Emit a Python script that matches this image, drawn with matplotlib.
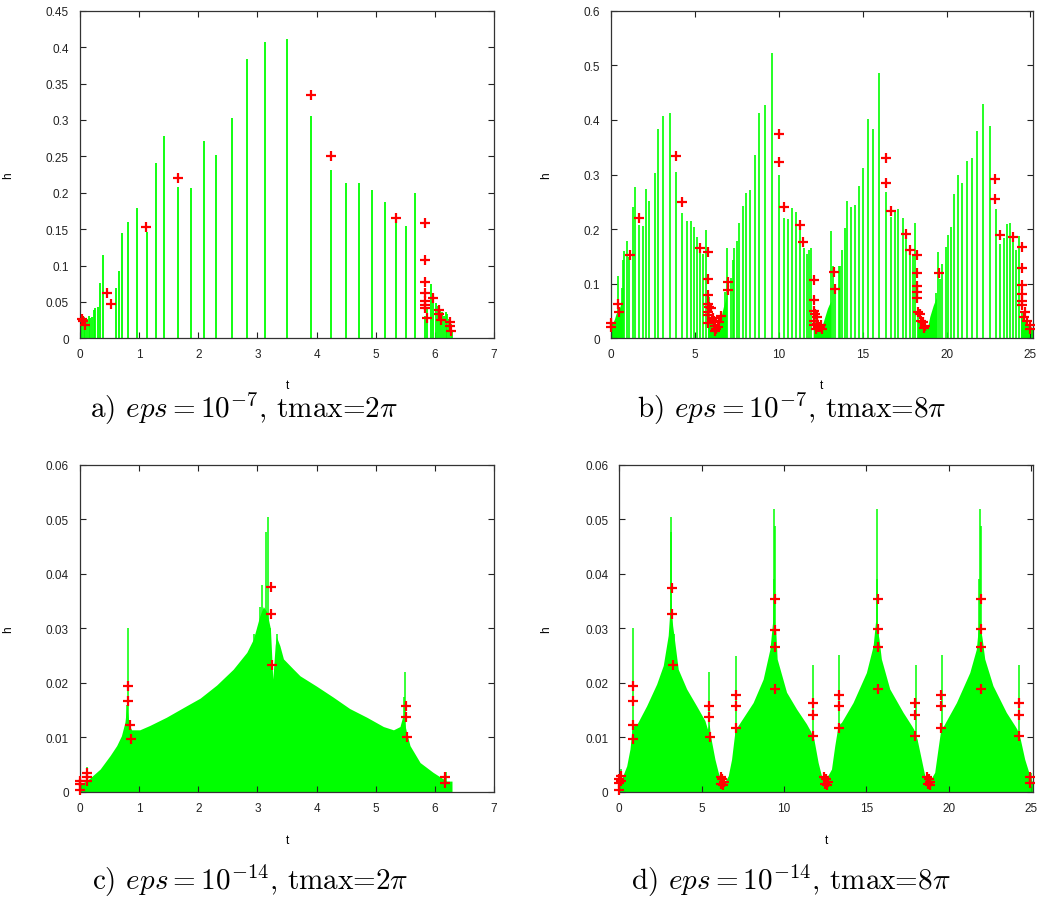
import numpy as np
import matplotlib
matplotlib.use("Agg")
import matplotlib.pyplot as plt
from matplotlib.ticker import FuncFormatter, MultipleLocator

# ---------------- data ----------------
# (t, h) step sizes, eps = 1e-7, tmax = 2*pi
a_bars = [(0.0, 0.030), (0.017, 0.032), (0.04, 0.030), (0.068, 0.029), (0.09, 0.027),
          (0.118, 0.027), (0.147, 0.030), (0.175, 0.028), (0.203, 0.029), (0.231, 0.039),
          (0.259, 0.042), (0.299, 0.043), (0.344, 0.0755), (0.383, 0.115), (0.614, 0.069),
          (0.665, 0.093), (0.715, 0.144), (0.817, 0.160), (0.957, 0.179), (1.126, 0.1465),
          (1.278, 0.241), (1.419, 0.2774), (1.661, 0.208), (1.881, 0.206), (2.089, 0.2715),
          (2.303, 0.2518), (2.568, 0.302), (2.821, 0.383), (3.131, 0.4074), (3.502, 0.4111),
          (3.907, 0.305), (4.242, 0.231), (4.501, 0.2138), (4.715, 0.2138), (4.930, 0.2037),
          (5.155, 0.1868), (5.346, 0.161), (5.515, 0.1547), (5.667, 0.199), (5.832, 0.031),
          (5.871, 0.040), (5.928, 0.0746), (5.962, 0.060), (6.023, 0.049), (6.057, 0.045),
          (6.085, 0.040), (6.119, 0.036), (6.148, 0.031), (6.187, 0.036), (6.209, 0.034),
          (6.243, 0.027), (6.266, 0.020), (6.283, 0.012)]
# rejected steps
a_pts = [(0.03, 0.0265), (0.057, 0.0234), (0.09, 0.018), (0.451, 0.0618), (0.518, 0.0467),
         (1.121, 0.1534), (1.656, 0.2197), (3.910, 0.3337), (4.242, 0.2504), (5.346, 0.1653),
         (5.825, 0.1584), (5.825, 0.1071), (5.825, 0.0778), (5.825, 0.0618), (5.825, 0.0517),
         (5.825, 0.0462), (5.825, 0.0412), (5.870, 0.0279), (5.966, 0.0554), (6.062, 0.0385),
         (6.062, 0.0334), (6.101, 0.0256), (6.248, 0.022), (6.248, 0.0174), (6.265, 0.0105)]

# eps = 1e-7, tmax = 8*pi
b_bars = [(0.417, 0.1135), (0.636, 0.093), (0.715, 0.144), (0.795, 0.160), (0.934, 0.179),
          (1.093, 0.148), (1.29, 0.241), (1.45, 0.2775), (1.688, 0.208), (1.887, 0.206),
          (2.086, 0.273), (2.284, 0.252), (2.602, 0.302), (2.82, 0.383), (3.119, 0.4076),
          (3.536, 0.4126), (3.893, 0.305), (4.25, 0.230), (4.509, 0.2142), (4.747, 0.2142),
          (4.966, 0.204), (5.145, 0.1862), (5.32, 0.1624), (5.5, 0.154), (5.66, 0.198),
          (5.85, 0.075), (6.81, 0.084), (6.91, 0.1654), (7.15, 0.1106), (7.27, 0.1435),
          (7.35, 0.1654), (7.51, 0.178), (7.65, 0.2105), (7.85, 0.243), (8.07, 0.266),
          (8.30, 0.2716), (8.6, 0.336), (8.84, 0.4126), (9.2, 0.4273), (9.575, 0.5225),
          (10.04, 0.299), (10.33, 0.2197), (10.57, 0.2185), (10.81, 0.238), (11.0, 0.2318),
          (11.28, 0.198), (11.48, 0.166), (11.68, 0.1553), (11.82, 0.162), (11.94, 0.166),
          (12.15, 0.050), (13.13, 0.196), (13.23, 0.1331), (13.37, 0.096), (13.57, 0.1331),
          (13.67, 0.1331), (13.79, 0.1623), (13.93, 0.2014), (14.09, 0.2508), (14.32, 0.240),
          (14.56, 0.2447), (14.78, 0.2796), (15.02, 0.312), (15.32, 0.4017), (15.61, 0.3834),
          (15.99, 0.4859), (16.41, 0.2673), (16.71, 0.2215), (16.94, 0.2307), (17.12, 0.2368),
          (17.38, 0.2203), (17.60, 0.182), (17.82, 0.1545), (17.98, 0.153), (18.14, 0.211),
          (18.3, 0.050), (19.35, 0.0837), (19.51, 0.1575), (19.61, 0.109), (19.75, 0.1361),
          (19.94, 0.1666), (20.10, 0.1892), (20.28, 0.2032), (20.44, 0.2643), (20.70, 0.299),
          (20.94, 0.2838), (21.24, 0.324), (21.53, 0.330), (21.83, 0.3791), (22.19, 0.429),
          (22.57, 0.3882), (22.96, 0.2368), (23.2, 0.1727), (23.42, 0.183), (23.62, 0.2093),
          (23.76, 0.2105), (23.93, 0.188), (24.15, 0.1623), (24.34, 0.188), (24.5, 0.050)]
# clusters of very small steps (upper envelope)
b_clusters = [
    [(0.0, 0.030), (0.1, 0.028), (0.2, 0.035), (0.3, 0.045), (0.4, 0.050), (0.5, 0.055),
     (0.6, 0.065), (0.65, 0.070)],
    [(5.75, 0.040), (5.9, 0.035), (6.0, 0.030), (6.1, 0.025), (6.2, 0.022), (6.3, 0.020),
     (6.4, 0.025), (6.5, 0.033), (6.6, 0.045), (6.7, 0.058), (6.8, 0.068), (6.9, 0.080)],
    [(12.05, 0.030), (12.2, 0.028), (12.35, 0.022), (12.5, 0.020), (12.6, 0.025),
     (12.7, 0.035), (12.8, 0.045), (12.9, 0.055), (13.0, 0.062), (13.1, 0.068)],
    [(18.25, 0.035), (18.4, 0.030), (18.6, 0.022), (18.8, 0.020), (18.9, 0.025),
     (19.0, 0.040), (19.1, 0.050), (19.2, 0.060), (19.3, 0.068), (19.4, 0.075)],
    [(24.4, 0.040), (24.6, 0.035), (24.8, 0.028), (25.0, 0.022), (25.13, 0.018)],
]
b_pts = [(0.0, 0.0275), (0.0, 0.021), (0.437, 0.0628), (0.45, 0.0476), (1.132, 0.153),
         (1.668, 0.220), (3.893, 0.334), (4.25, 0.250), (5.32, 0.166), (5.80, 0.158),
         (5.80, 0.1086), (5.80, 0.0787), (5.80, 0.0628), (5.85, 0.0567), (5.78, 0.049),
         (5.80, 0.043), (5.80, 0.028), (5.96, 0.055), (6.0, 0.035), (6.10, 0.0366),
         (6.15, 0.0323), (6.22, 0.023), (6.22, 0.014), (6.25, 0.017), (6.35, 0.020),
         (6.46, 0.0292), (6.56, 0.0414), (6.95, 0.1037), (6.95, 0.0891), (10.01, 0.3748),
         (10.01, 0.3235), (10.29, 0.240), (11.24, 0.2075), (11.42, 0.176), (12.12, 0.1068),
         (12.12, 0.0696), (12.12, 0.0507), (12.18, 0.045), (12.25, 0.039), (12.12, 0.032),
         (12.12, 0.025), (12.22, 0.017), (12.3, 0.026), (12.35, 0.020), (12.45, 0.020),
         (12.55, 0.017), (12.5, 0.024), (13.27, 0.1209), (13.37, 0.0904), (16.37, 0.3297),
         (16.37, 0.2851), (16.67, 0.2338), (17.60, 0.1916), (17.82, 0.1612), (18.24, 0.1526),
         (18.24, 0.119), (18.24, 0.0964), (18.24, 0.0842), (18.24, 0.0744), (18.3, 0.049),
         (18.4, 0.045), (18.5, 0.032), (18.6, 0.029), (18.7, 0.023), (18.65, 0.018),
         (19.55, 0.119), (22.9, 0.2918), (22.9, 0.2552), (23.18, 0.1892), (23.96, 0.185),
         (24.47, 0.1678), (24.47, 0.128), (24.47, 0.0976), (24.47, 0.0812), (24.47, 0.0677),
         (24.47, 0.061), (24.66, 0.0488), (24.6, 0.0397), (24.8, 0.032), (24.95, 0.024),
         (25.0, 0.017)]

# eps = 1e-14, tmax = 2*pi : upper envelope of the dense steps
c_env = [(0.0, 0.0015), (0.11, 0.0020), (0.34, 0.0042), (0.51, 0.0067), (0.62, 0.0085),
         (0.70, 0.0103), (0.76, 0.0128), (0.79, 0.0158), (0.834, 0.0122), (0.873, 0.0114),
         (1.01, 0.0114), (1.18, 0.0122), (1.46, 0.0137), (1.80, 0.0158), (2.03, 0.0172),
         (2.31, 0.0196), (2.59, 0.0225), (2.82, 0.0256), (2.93, 0.0280), (3.04, 0.0323),
         (3.10, 0.0340), (3.16, 0.0330), (3.22, 0.0299), (3.26, 0.0207), (3.30, 0.0269),
         (3.32, 0.0285), (3.38, 0.0268), (3.44, 0.0244), (3.61, 0.0225), (3.72, 0.0213),
         (4.00, 0.0194), (4.28, 0.0174), (4.56, 0.0153), (4.85, 0.0137), (5.13, 0.0120),
         (5.30, 0.0114), (5.41, 0.0120), (5.46, 0.0140), (5.52, 0.0110), (5.58, 0.0085),
         (5.75, 0.0054), (5.97, 0.0036), (6.20, 0.0020), (6.29, 0.0020)]
c_spikes = [(0.11, 0.0045), (0.79, 0.016), (0.806, 0.0301), (2.95, 0.029), (3.04, 0.034),
            (3.08, 0.038), (3.14, 0.0477), (3.18, 0.0505), (3.22, 0.030), (3.33, 0.029),
            (5.47, 0.0175), (5.49, 0.022), (6.18, 0.0037)]
c_pts = [(0.0, 0.0021), (0.0, 0.0015), (0.0, 0.0003), (0.113, 0.0034), (0.113, 0.0028),
         (0.12, 0.0020), (0.817, 0.0194), (0.817, 0.0167), (0.845, 0.0122), (0.862, 0.0097),
         (3.223, 0.0375), (3.223, 0.0326), (3.25, 0.0232), (5.51, 0.0158), (5.51, 0.0138),
         (5.527, 0.0100), (6.175, 0.0027), (6.175, 0.0017)]

# eps = 1e-14, tmax = 8*pi
d_env = [(0.0, 0.0012), (0.14, 0.0024), (0.45, 0.0048), (0.65, 0.0079), (0.77, 0.0115),
         (0.89, 0.0122), (1.05, 0.0123), (1.66, 0.0158), (2.27, 0.0198), (2.67, 0.0232),
         (2.97, 0.0287), (3.12, 0.0354), (3.24, 0.0305), (3.32, 0.0287), (3.58, 0.0225),
         (4.09, 0.0189), (4.69, 0.0158), (5.20, 0.0131), (5.36, 0.0115), (5.46, 0.0125),
         (5.54, 0.0103), (5.81, 0.0060), (6.01, 0.0036), (6.21, 0.0018), (6.35, 0.0015),
         (6.62, 0.0030), (6.82, 0.0060), (7.02, 0.0110), (7.22, 0.0122), (8.13, 0.0164),
         (8.74, 0.0207), (9.15, 0.0262), (9.35, 0.0323), (9.51, 0.0293), (9.59, 0.0244),
         (10.16, 0.0183), (10.77, 0.0152), (11.37, 0.0125), (11.61, 0.0112), (11.82, 0.0097),
         (12.08, 0.0054), (12.28, 0.0030), (12.48, 0.0020), (12.89, 0.0042), (13.09, 0.0085),
         (13.29, 0.0122), (13.50, 0.0128), (14.20, 0.0164), (15.01, 0.0219), (15.42, 0.0268),
         (15.58, 0.0317), (15.78, 0.0280), (15.92, 0.0244), (16.43, 0.0189), (17.24, 0.0146),
         (17.75, 0.0122), (17.89, 0.0115), (18.09, 0.0097), (18.35, 0.0060), (18.56, 0.0030),
         (18.82, 0.0018), (19.16, 0.0036), (19.36, 0.0079), (19.53, 0.0115), (19.71, 0.0122),
         (20.48, 0.0164), (21.29, 0.0219), (21.69, 0.0262), (21.86, 0.0317), (22.05, 0.0280),
         (22.20, 0.0244), (22.70, 0.0195), (23.51, 0.0146), (24.02, 0.0122), (24.16, 0.0115),
         (24.36, 0.0097), (24.63, 0.0060), (24.94, 0.0030), (25.10, 0.0018)]
d_spikes = [(0.12, 0.0042), (0.81, 0.030), (3.12, 0.0477), (3.16, 0.0505), (3.24, 0.029),
            (3.32, 0.029), (5.46, 0.022), (7.12, 0.025), (9.38, 0.039), (9.41, 0.0519),
            (9.44, 0.0488), (11.74, 0.0232), (13.33, 0.0251), (15.63, 0.039), (15.66, 0.0518),
            (15.72, 0.029), (18.01, 0.0232), (19.59, 0.0251), (21.88, 0.039), (21.91, 0.0518),
            (21.96, 0.0488), (24.26, 0.0232), (25.0, 0.0035)]
d_pts = [(0.0, 0.0003), (0.0, 0.0017), (0.0, 0.0024), (0.1, 0.0030), (0.1, 0.0020),
         (0.82, 0.0194), (0.82, 0.0167), (0.84, 0.0122), (0.86, 0.0097),
         (3.2, 0.0374), (3.2, 0.0326), (3.26, 0.0232),
         (5.46, 0.0158), (5.46, 0.0138), (5.5, 0.0100),
         (6.15, 0.0027), (6.25, 0.0024), (6.35, 0.0019), (6.2, 0.0015), (6.3, 0.0012),
         (7.08, 0.0178), (7.08, 0.0158), (7.08, 0.0117),
         (9.47, 0.0353), (9.47, 0.0297), (9.47, 0.0266), (9.47, 0.0188),
         (11.74, 0.0163), (11.74, 0.0142), (11.74, 0.0103),
         (12.45, 0.0027), (12.55, 0.0024), (12.65, 0.0019), (12.5, 0.0015), (12.6, 0.0012),
         (13.33, 0.0178), (13.33, 0.0158), (13.33, 0.0117),
         (15.7, 0.0353), (15.7, 0.0299), (15.7, 0.0266), (15.7, 0.0188),
         (17.99, 0.0163), (17.99, 0.0142), (17.99, 0.0103),
         (18.7, 0.0027), (18.8, 0.0024), (18.9, 0.0019), (18.75, 0.0015), (18.85, 0.0012),
         (19.57, 0.0178), (19.57, 0.0158), (19.57, 0.0117),
         (21.97, 0.0353), (21.97, 0.0299), (21.97, 0.0266), (21.97, 0.0188),
         (24.26, 0.0163), (24.26, 0.0142), (24.26, 0.0103),
         (24.93, 0.0027), (24.93, 0.0017)]

captions = [r"a) $eps = 10^{-7}$, tmax=$2\pi$",
            r"b) $eps = 10^{-7}$, tmax=$8\pi$",
            r"c) $eps = 10^{-14}$, tmax=$2\pi$",
            r"d) $eps = 10^{-14}$, tmax=$8\pi$"]

# ---------------- styling ----------------
plt.rcParams['font.family'] = ['Liberation Sans', 'DejaVu Sans']
plt.rcParams['mathtext.fontset'] = 'cm'
GREEN = '#00ff00'
RED = '#ff0000'

fig = plt.figure(figsize=(10.43, 9.04), dpi=100)
W, H = 1043.0, 904.0


def make_axes(left, right, top, bottom):
    return fig.add_axes([left / W, 1 - bottom / H, (right - left) / W, (bottom - top) / H])


def unzip(pairs):
    arr = np.array(pairs, dtype=float)
    return arr[:, 0], arr[:, 1]


def style(ax, xmax, xstep, ymax, ystep, ylab_x, xlab_y):
    ax.set_xlim(0, xmax)
    ax.set_ylim(0, ymax)
    ax.xaxis.set_major_locator(MultipleLocator(xstep))
    ax.yaxis.set_major_locator(MultipleLocator(ystep))
    fmt = FuncFormatter(lambda v, p: "%g" % round(v, 6))
    ax.xaxis.set_major_formatter(fmt)
    ax.yaxis.set_major_formatter(fmt)
    ax.tick_params(direction='in', top=True, right=True, length=4, width=0.8,
                   labelsize=8.5, colors='#222222', pad=8)
    ax.tick_params(axis='x', pad=7)
    for s in ax.spines.values():
        s.set_linewidth(0.9)
        s.set_color('#333333')
    ax.set_ylabel('h', fontsize=8.5)
    ax.set_xlabel('t', fontsize=8.5)
    ax.yaxis.set_label_coords(ylab_x, 0.5)
    ax.xaxis.set_label_coords(0.5, xlab_y)


def draw_points(ax, pts):
    t, h = unzip(pts)
    ax.plot(t, h, linestyle='none', marker='+', markersize=6.5, mew=1.6, color=RED,
            zorder=5, clip_on=False)


# a)
ax_a = make_axes(80, 494, 11.7, 339.3)
t, h = unzip(a_bars)
ax_a.vlines(t, 0, h, colors=GREEN, linewidth=1.3)
draw_points(ax_a, a_pts)
style(ax_a, 7, 1, 0.45, 0.05, -0.159, -0.124)

# b)
ax_b = make_axes(611, 1032.7, 11.7, 339.3)
for cl in b_clusters:
    t, h = unzip(cl)
    ax_b.fill_between(t, 0, h, color=GREEN, linewidth=0)
t, h = unzip(b_bars)
ax_b.vlines(t, 0, h, colors=GREEN, linewidth=1.2)
draw_points(ax_b, b_pts)
style(ax_b, 8 * np.pi, 5, 0.6, 0.1, -0.139, -0.124)

# c)
ax_c = make_axes(80, 494, 465.7, 793)
t, h = unzip(c_env)
ax_c.fill_between(t, 0, h, color=GREEN, linewidth=0)
t, h = unzip(c_spikes)
ax_c.vlines(t, 0, h, colors=GREEN, linewidth=1.1)
draw_points(ax_c, c_pts)
style(ax_c, 7, 1, 0.06, 0.01, -0.159, -0.128)

# d)
ax_d = make_axes(619.3, 1033, 465.7, 793)
t, h = unzip(d_env)
ax_d.fill_between(t, 0, h, color=GREEN, linewidth=0)
t, h = unzip(d_spikes)
ax_d.vlines(t, 0, h, colors=GREEN, linewidth=1.1)
draw_points(ax_d, d_pts)
style(ax_d, 8 * np.pi, 5, 0.06, 0.01, -0.162, -0.128)

# captions below each panel, Computer Modern
cap_pos = [(244, 409), (792, 409), (250, 881), (791, 881)]
for (cx, cy), txt in zip(cap_pos, captions):
    fig.text(cx / W, 1 - cy / H, txt, ha='center', va='center', fontsize=21,
             family='cmr10')

fig.savefig('out.png', dpi=100)
